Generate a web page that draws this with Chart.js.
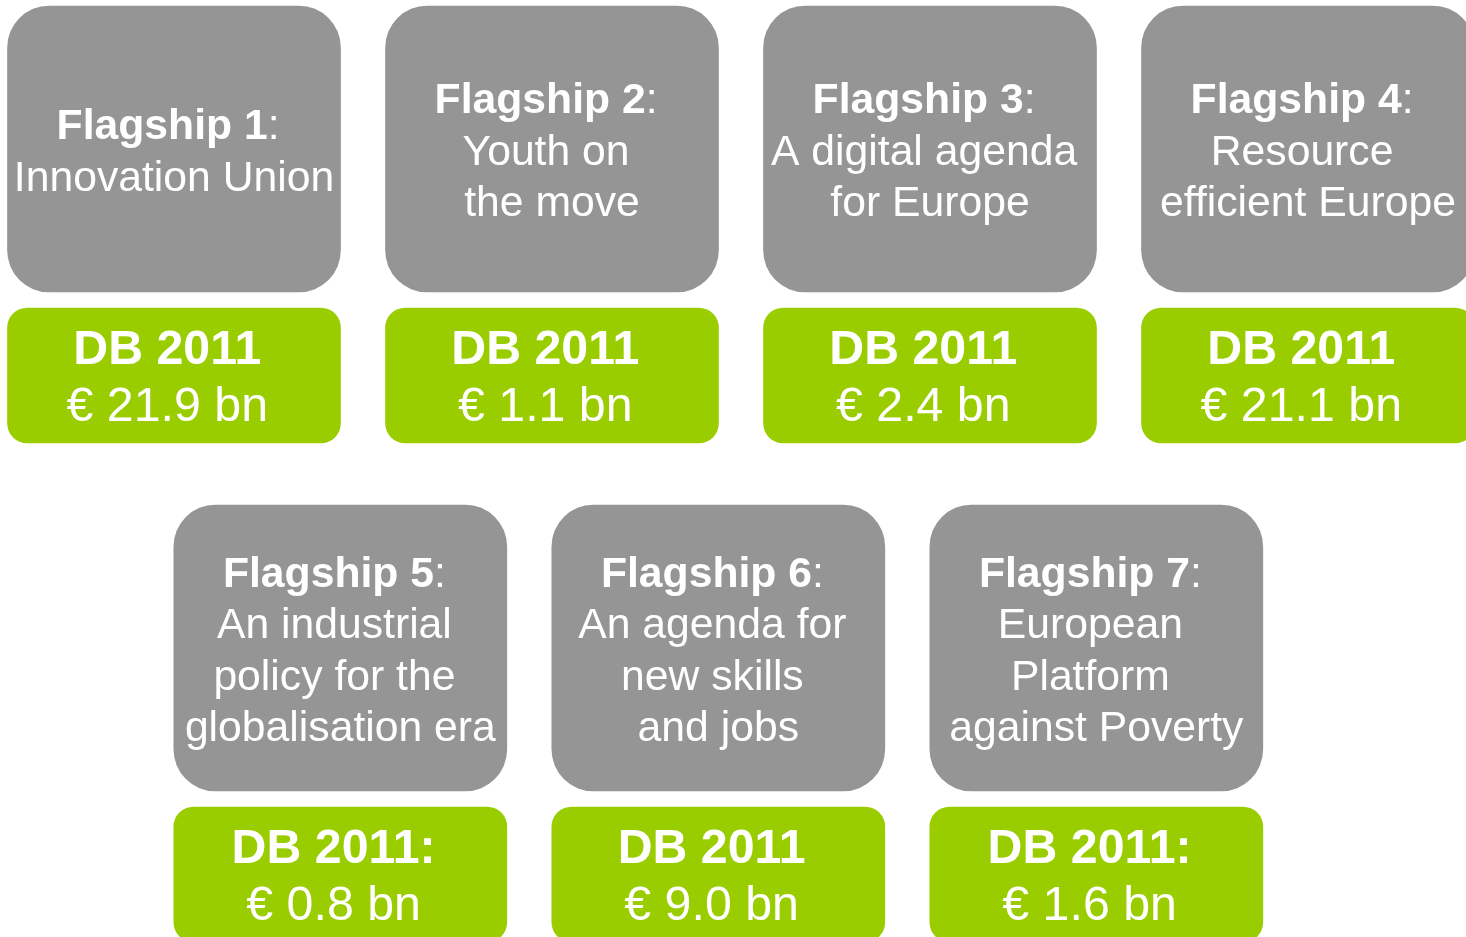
<!DOCTYPE html>
<html>
<head>
<meta charset="utf-8">
<script src="https://cdn.jsdelivr.net/npm/chart.js@4/dist/chart.umd.min.js"></script>
<style>
  html, body { margin: 0; padding: 0; background: #fff; }
  #wrap { width: 1466px; height: 937px; }
</style>
</head>
<body>
<div id="wrap"><canvas id="flagships"></canvas></div>
<script>
// --- data ---
const flagshipNames = ['Flagship 1', 'Flagship 2', 'Flagship 3', 'Flagship 4', 'Flagship 5', 'Flagship 6', 'Flagship 7'];
const flagshipThemes = [
    ['Innovation Union'],
    ['Youth on ', 'the move'],
    ['A digital agenda ', 'for Europe'],
    ['Resource ', 'efficient Europe'],
    ['An industrial ', 'policy for the ', 'globalisation era'],
    ['An agenda for ', 'new skills ', 'and jobs'],
    ['European ', 'Platform ', 'against Poverty']
];
const budgetLabels = ['DB 2011 ', 'DB 2011 ', 'DB 2011 ', 'DB 2011 ', 'DB 2011: ', 'DB 2011 ', 'DB 2011: '];
const budgetsBn = [21.9, 1.1, 2.4, 21.1, 0.8, 9.0, 1.6];

// --- layout: 4 boxes on row 1, 3 boxes on row 2 (shifted right) ---
const ROW_STEP = 499;
const ROW2_SHIFT = 0.44;
function slot(i) {
    return i < 4 ? { col: i, row: 0 } : { col: i - 4 + ROW2_SHIFT, row: 1 };
}

const FONT = '"Liberation Sans", Arial, Helvetica, sans-serif';
const GREY_PX = 42.7;
const GREEN_PX = 48.3;

const greyBoxes = flagshipNames.map((n, i) => {
    const s = slot(i);
    return { x: s.col, y: [6 + s.row * ROW_STEP, 292 + s.row * ROW_STEP] };
});
const greenBoxes = budgetsBn.map((v, i) => {
    const s = slot(i);
    return { x: s.col, y: [308 + s.row * ROW_STEP, 443 + s.row * ROW_STEP] };
});

// writes the lines inside each box
const boxText = {
    id: 'boxText',
    afterDatasetsDraw(chart) {
        const ctx = chart.ctx;
        ctx.save();
        ctx.fillStyle = '#ffffff';
        ctx.textBaseline = 'middle';
        ctx.textAlign = 'left';

        // grey flagship boxes
        chart.getDatasetMeta(0).data.forEach((bar, i) => {
            const p = bar.getProps(['x', 'y', 'base'], true);
            const lines = flagshipThemes[i];
            const lh = 51.5;
            const total = lines.length + 1;
            const cy = (p.y + p.base) / 2 + 4;
            let y = cy - (total - 1) * lh / 2;

            // first line: bold name + regular colon
            ctx.font = 'bold ' + GREY_PX + 'px ' + FONT;
            const wb = ctx.measureText(flagshipNames[i]).width;
            ctx.font = GREY_PX + 'px ' + FONT;
            const wc = ctx.measureText(': ').width;
            let x = p.x - (wb + wc) / 2;
            ctx.font = 'bold ' + GREY_PX + 'px ' + FONT;
            ctx.fillText(flagshipNames[i], x, y);
            ctx.font = GREY_PX + 'px ' + FONT;
            ctx.fillText(':', x + wb, y);

            ctx.textAlign = 'center';
            lines.forEach(line => {
                y += lh;
                ctx.fillText(line, p.x, y);
            });
            ctx.textAlign = 'left';
        });

        // green budget boxes
        ctx.textAlign = 'center';
        chart.getDatasetMeta(1).data.forEach((bar, i) => {
            const p = bar.getProps(['x', 'y', 'base'], true);
            const cy = (p.y + p.base) / 2 + 3.5;
            ctx.font = 'bold ' + GREEN_PX + 'px ' + FONT;
            ctx.fillText(budgetLabels[i], p.x, cy - 28.5);
            ctx.font = GREEN_PX + 'px ' + FONT;
            ctx.fillText('\u20AC ' + budgetsBn[i].toFixed(1) + ' bn ', p.x, cy + 28.5);
        });
        ctx.restore();
    }
};

const ctx = document.getElementById('flagships').getContext('2d');
new Chart(ctx, {
    type: 'bar',
    data: {
        datasets: [
            {
                label: 'Flagship',
                data: greyBoxes,
                backgroundColor: '#959595',
                borderRadius: 42,
                borderSkipped: false,
                barThickness: 333,
                grouped: false
            },
            {
                label: 'Budget',
                data: greenBoxes,
                backgroundColor: '#9ACD00',
                borderRadius: 20,
                borderSkipped: false,
                barThickness: 333,
                grouped: false
            }
        ]
    },
    options: {
        responsive: true,
        maintainAspectRatio: false,
        animation: false,
        layout: { padding: 0 },
        scales: {
            x: { type: 'linear', display: false, offset: false, min: -174 / 378, max: (1466 - 174) / 378 },
            y: { type: 'linear', display: false, reverse: true, min: 0, max: 937 }
        },
        plugins: {
            legend: { display: false },
            tooltip: { enabled: false }
        }
    },
    plugins: [boxText]
});
</script>
</body>
</html>
